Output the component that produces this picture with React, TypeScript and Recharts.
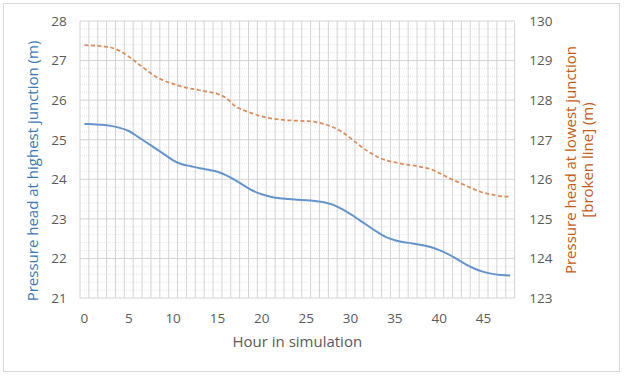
import React from "react";
import { LineChart, Line, XAxis, YAxis, ReferenceLine } from "recharts";

const hours = Array.from({ length: 49 }, (_, i) => i);
const highestJunction = [
  25.4, 25.39, 25.38, 25.35, 25.3, 25.22, 25.08, 24.93, 24.78, 24.63,
  24.48, 24.38, 24.33, 24.28, 24.24, 24.19, 24.1, 23.98, 23.84, 23.71,
  23.62, 23.56, 23.52, 23.5, 23.48, 23.47, 23.45, 23.42, 23.36, 23.25,
  23.12, 22.97, 22.82, 22.67, 22.54, 22.46, 22.41, 22.38, 22.34, 22.29,
  22.21, 22.11, 21.98, 21.85, 21.74, 21.66, 21.61, 21.58, 21.57,
];
const lowestJunction = [
  129.39, 129.38, 129.36, 129.33, 129.24, 129.1, 128.93, 128.76, 128.6, 128.49,
  128.41, 128.34, 128.29, 128.25, 128.21, 128.16, 128.05, 127.85, 127.74, 127.66,
  127.59, 127.54, 127.51, 127.49, 127.48, 127.47, 127.45, 127.4, 127.32, 127.2,
  127.04, 126.86, 126.7, 126.57, 126.48, 126.43, 126.38, 126.35, 126.31, 126.26,
  126.16, 126.04, 125.94, 125.84, 125.74, 125.66, 125.61, 125.57, 125.56,
];
const xTicks = [0, 5, 10, 15, 20, 25, 30, 35, 40, 45];
const leftTicks = [21, 22, 23, 24, 25, 26, 27, 28];
const rightTicks = [123, 124, 125, 126, 127, 128, 129, 130];
const xTitle = "Hour in simulation";
const leftTitle = "Pressure head at highest junction (m)";
const rightTitle = ["Pressure head at lowest junction", "[broken line] (m)"];

const data = hours.map((h, i) => ({
  hour: h,
  high: highestJunction[i],
  low: lowestJunction[i],
}));

const boundaries = Array.from({ length: hours.length + 1 }, (_, i) => i - 0.5);
const minorY: number[] = [];
for (let v = 21; v < 28; v++) {
  for (let k = 1; k < 5; k++) minorY.push(Math.round((v + k * 0.2) * 100) / 100);
}

const FONT = "'Open Sans', sans-serif";
const TICK = { fill: "#595959", fontSize: 13.5, fontFamily: FONT };
const TITLE_SIZE = 15;

const LeftTitle = (props: any) => {
  const vb = props.viewBox;
  const cx = vb.x + 33;
  const cy = vb.y + vb.height / 2 + 11.5;
  return (
    <text
      transform={`translate(${cx},${cy}) rotate(-90)`}
      textAnchor="middle"
      fill="#3A78B5"
      fontSize={TITLE_SIZE}
      fontFamily={FONT}
      dy={5}
    >
      {leftTitle}
    </text>
  );
};

const RightTitle = (props: any) => {
  const vb = props.viewBox;
  const cx = vb.x + 65;
  const cy = vb.y + vb.height / 2 + 0.5;
  return (
    <text
      transform={`translate(${cx},${cy}) rotate(-90)`}
      textAnchor="middle"
      fill="#C55A11"
      fontSize={TITLE_SIZE}
      fontFamily={FONT}
    >
      <tspan x={0} y={-3.2}>{rightTitle[0]}</tspan>
      <tspan x={0} y={13.6}>{rightTitle[1]}</tspan>
    </text>
  );
};

export default function App() {
  return (
    <div
      style={{
        position: "fixed",
        left: 0,
        top: 0,
        width: 624,
        height: 377,
        background: "#fff",
      }}
    >
      <div
        style={{
          position: "absolute",
          left: 3,
          top: 3,
          width: 617,
          height: 369,
          border: "1px solid #D9D9D9",
          boxSizing: "border-box",
        }}
      />
      <LineChart
        width={624}
        height={377}
        data={data}
        margin={{ top: 21, right: 29.4, bottom: 49, left: 0 }}
      >
        <XAxis
          dataKey="hour"
          type="number"
          domain={[-0.5, 48.5]}
          ticks={xTicks}
          axisLine={false}
          tickLine={false}
          tickMargin={9}
          tick={TICK}
          height={30}
          interval={0}
          label={{
            value: xTitle,
            position: "bottom",
            offset: 8,
            fill: "#595959",
            fontSize: TITLE_SIZE,
            fontFamily: FONT,
          }}
        />
        <YAxis
          yAxisId="left"
          orientation="left"
          domain={[21, 28]}
          ticks={leftTicks}
          axisLine={false}
          tickLine={false}
          tickMargin={7.3}
          tick={TICK}
          width={80}
          interval={0}
          label={<LeftTitle />}
        />
        <YAxis
          yAxisId="right"
          orientation="right"
          domain={[123, 130]}
          ticks={rightTicks}
          axisLine={false}
          tickLine={false}
          tickMargin={8.7}
          tick={{ ...TICK, textAnchor: "start" }}
          width={80}
          interval={0}
          label={<RightTitle />}
        />
        {minorY.map((v) => (
          <ReferenceLine
            key={"m" + v}
            yAxisId="left"
            y={v}
            stroke="#E6E6E6"
            strokeDasharray="1 1"
            strokeWidth={1}
          />
        ))}
        {boundaries.map((b) => (
          <ReferenceLine
            key={"v" + b}
            yAxisId="left"
            x={b}
            stroke="#D4D4D4"
            strokeWidth={1}
          />
        ))}
        {leftTicks.map((v) => (
          <ReferenceLine
            key={"h" + v}
            yAxisId="left"
            y={v}
            stroke="#D4D4D4"
            strokeWidth={1}
          />
        ))}
        <Line
          yAxisId="left"
          type="monotone"
          dataKey="high"
          stroke="#6494CC"
          strokeWidth={2}
          dot={false}
          isAnimationActive={false}
        />
        <Line
          yAxisId="right"
          type="monotone"
          dataKey="low"
          stroke="#DA8D5A"
          strokeWidth={1.75}
          strokeDasharray="4 2.5"
          dot={false}
          isAnimationActive={false}
        />
      </LineChart>
    </div>
  );
}
